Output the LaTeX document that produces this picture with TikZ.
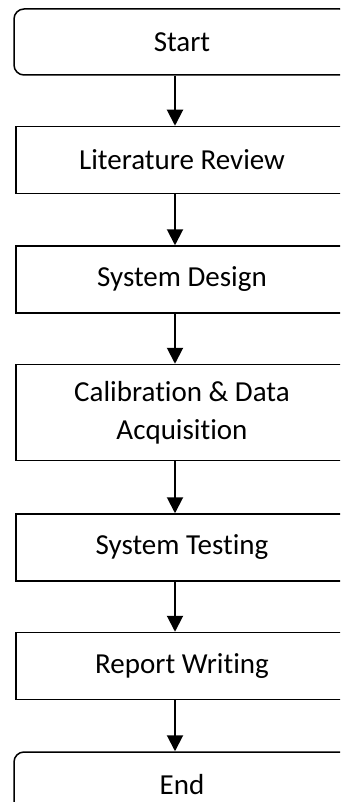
\documentclass[tikz,border=0pt]{standalone}
\usepackage{fontspec}
\setmainfont{Carlito}[Ligatures=NoCommon]
\usetikzlibrary{positioning, arrows.meta}

\begin{document}
\begin{tikzpicture}[x=1pt, y=-1pt,
            roundnode/.style={rectangle, rounded corners=10pt, draw=black, line width=1.5pt, minimum height=66pt, minimum width=336pt, font=\fontsize{29}{38}\selectfont},
            squarednode/.style={rectangle, draw=black, line width=1.5pt, minimum height=67pt, minimum width=332pt, align=center, font=\fontsize{29}{38}\selectfont},
            flow/.style={-{Triangle[width=16pt, length=16pt]}, line width=2pt},
            ]
            \clip (0,0) rectangle (340,802);
            %Nodes
            \node[roundnode]    (start)                          at (182,42)  {Start};
            \node[squarednode]  (litreview)   [below=50pt of start]           {Literature Review};
            \node[squarednode]  (sysdesign)   [below=51pt of litreview]       {System Design};
            \node[squarednode, minimum height=96pt] (calibration) [below=50pt of sysdesign] {Calibration \& Data\\ Acquisition};
            \node[squarednode]  (systesting)  [below=52pt of calibration]     {System Testing};
            \node[squarednode]  (report)      [below=50pt of systesting]      {Report Writing};
            \node[roundnode]    (finish)      [below=51pt of report]          {End};
            \coordinate (spine) at (175,0);

            %Lines
            \draw[flow] (start.south -| spine) -- (litreview.north -| spine);
            \draw[flow] (litreview.south -| spine) -- (sysdesign.north -| spine);
            \draw[flow] (sysdesign.south -| spine) -- (calibration.north -| spine);
            \draw[flow] (calibration.south -| spine) -- (systesting.north -| spine);
            \draw[flow] (systesting.south -| spine) -- (report.north -| spine);
            \draw[flow] (report.south -| spine) -- (finish.north -| spine);
          \end{tikzpicture}
\end{document}
